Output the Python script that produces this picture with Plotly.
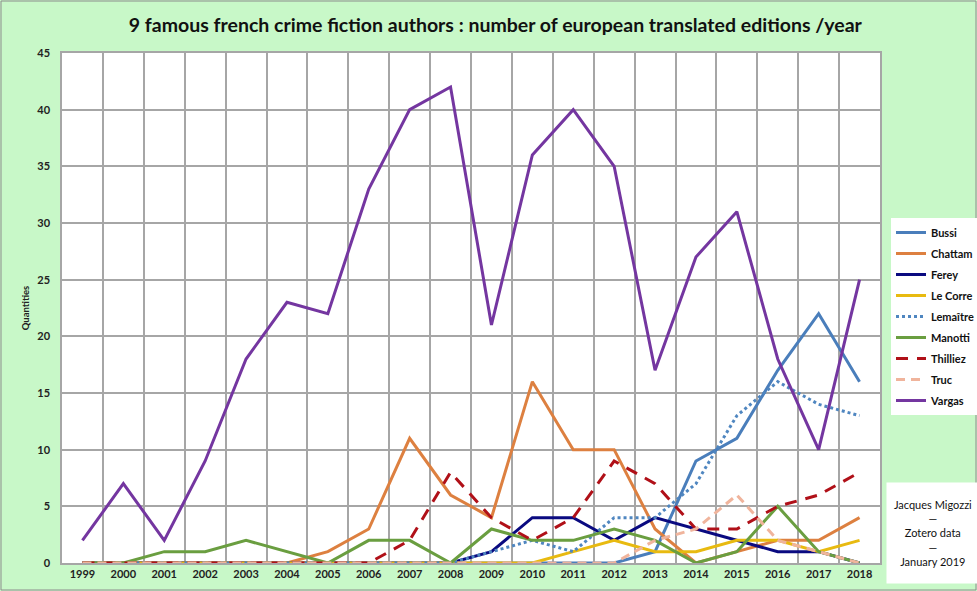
import plotly.graph_objects as go

years = [str(y) for y in range(1999, 2019)]

bussi    = [0,0,0,0,0,0,0,0,0,0,0,0,0,0,1,9,11,17,22,16]
chattam  = [0,0,0,0,0,0,1,3,11,6,4,16,10,10,3,0,1,2,2,4]
ferey    = [0,0,0,0,0,0,0,0,0,0,1,4,4,2,4,3,2,1,1,0]
lecorre  = [0,0,0,0,0,0,0,0,0,0,0,0,1,2,1,1,2,2,1,2]
lemaitre = [0,0,0,0,0,0,0,0,0,0,1,2,1,4,4,7,13,16,14,13]
manotti  = [0,0,1,1,2,1,0,2,2,0,3,2,2,3,2,0,1,5,1,0]
thilliez = [0,0,0,0,0,0,0,0,2,8,4,2,4,9,7,3,3,5,6,8]
truc     = [0,0,0,0,0,0,0,0,0,0,0,0,0,0,2,3,6,2,1,0]
vargas   = [2,7,2,9,18,23,22,33,40,42,21,36,40,35,17,27,31,18,10,25]

series = [
    ("Bussi", bussi, "#4A7EBB", "solid"),
    ("Chattam", chattam, "#DD8040", "solid"),
    ("Ferey", ferey, "#0A0A80", "solid"),
    ("Le Corre", lecorre, "#E8BA10", "solid"),
    ("Lemaître", lemaitre, "#4F86C0", "dot"),
    ("Manotti", manotti, "#6A9E40", "solid"),
    ("Thilliez", thilliez, "#B01018", "12px,9px"),
    ("Truc", truc, "#F0B49C", "9px,6px"),
    ("Vargas", vargas, "#7436A0", "solid"),
]

FONT = "Lato"
fig = go.Figure()
for name, vals, color, dash in series:
    fig.add_trace(go.Scatter(
        x=years, y=vals, name=name, mode="lines", legendgroup=name,
        line=dict(color=color, width=3, dash=dash),
    ))

fig.update_layout(
    width=977, height=591,
    paper_bgcolor="#C8F8C8",
    plot_bgcolor="white",
    margin=dict(l=62, r=97, t=53, b=28, autoexpand=False),
    font=dict(family=FONT, color="#222222"),
    title=dict(
        text="<b>9 famous french crime fiction authors : number of european translated editions /year</b>",
        x=0.507, xref="container", xanchor="center",
        y=1 - 25/591, yref="container", yanchor="middle",
        font=dict(size=19.5, family=FONT, color="#111111"),
    ),
    xaxis=dict(
        type="category", tickson="boundaries", range=[-0.5, 19.5],
        showgrid=True, gridcolor="#A6A6A6", gridwidth=1.5,
        showline=True, linecolor="#A6A6A6", linewidth=1.5, mirror=True,
        ticks="", tickfont=dict(size=11, family=FONT, weight="bold", color="#222222"),
        zeroline=False,
    ),
    yaxis=dict(
        range=[0, 45], dtick=5,
        showgrid=True, gridcolor="#A6A6A6", gridwidth=1.5,
        showline=True, linecolor="#A6A6A6", linewidth=1.5, mirror=True,
        ticks="", tickfont=dict(size=11, family=FONT, weight="bold", color="#222222"),
        ticklabelstandoff=8,
        zeroline=False,
        title=dict(text="<b>Quantities</b>", font=dict(size=9.5, family=FONT), standoff=6),
    ),
    legend=dict(
        xref="container", yref="container",
        x=891 / 977, xanchor="left",
        y=1 - 218 / 591, yanchor="top",
        bgcolor="white", borderwidth=0,
        font=dict(size=11, family=FONT, weight="bold", color="#111111"),
        itemwidth=30, tracegroupgap=2,
    ),
    showlegend=True,
)

fig.add_annotation(
    xref="paper", yref="paper",
    x=(933 - 62) / 818, y=(563 - 533) / 510,
    xanchor="center", yanchor="middle",
    text="Jacques Migozzi<br>—<br>Zotero data<br>—<br>January 2019",
    showarrow=False, align="center",
    bgcolor="white", width=90, height=98,
    font=dict(size=11, family=FONT, color="#111111"),
)

fig.add_shape(
    type="rect", xref="paper", yref="paper",
    x0=-61/818, x1=(976-62)/818, y0=-27/510, y1=(563-1)/510,
    line=dict(color="#8C8C8C", width=1), fillcolor="rgba(0,0,0,0)", layer="below",
)

fig.write_html("out.html", config={"displayModeBar": False},
               post_script="document.body.style.margin='0';document.body.style.padding='0';")
